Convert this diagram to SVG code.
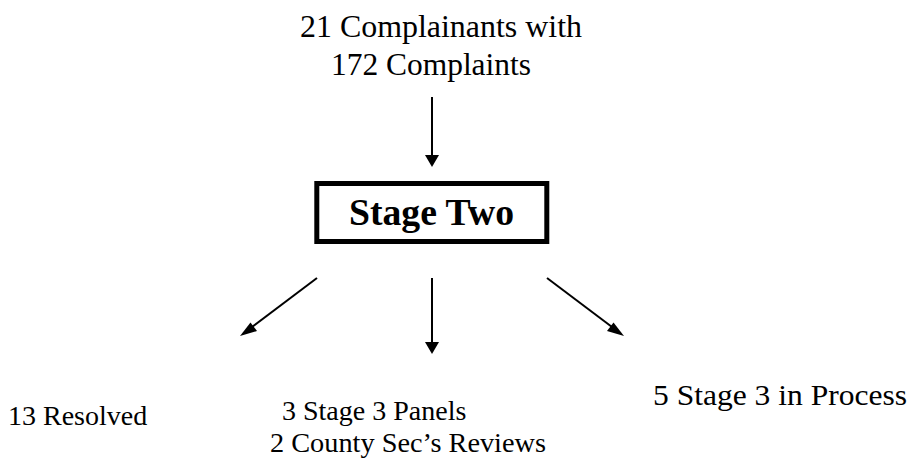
<svg xmlns="http://www.w3.org/2000/svg" width="915" height="462" viewBox="0 0 915 462">
<defs>
<style>
.t{font-family:"Liberation Serif","Times New Roman",serif;fill:#000;}
.n{font-size:28px;}
.top{font-size:31px;}
.b{font-size:37px;font-weight:bold;}
.c{stroke:#000;stroke-width:2;fill:none;}
.h{fill:#000;}
</style>
</defs>
<rect width="915" height="462" fill="#fff"/>
<g id="complainants">
<text class="t top" x="300" y="37" textLength="282" lengthAdjust="spacingAndGlyphs">21 Complainants with</text>
<text class="t top" x="331" y="75" textLength="200" lengthAdjust="spacingAndGlyphs">172 Complaints</text>
</g>
<g id="stage-two">
<rect x="316.8" y="183.5" width="230" height="58" fill="#fff" stroke="#000" stroke-width="5"/>
<text class="t b" x="349" y="225" textLength="165" lengthAdjust="spacingAndGlyphs">Stage Two</text>
</g>
<g id="resolved">
<text class="t n" x="8" y="425">13 Resolved</text>
</g>
<g id="panels">
<text class="t n" x="282" y="420">3 Stage 3 Panels</text>
<text class="t n" x="270" y="452" textLength="276" lengthAdjust="spacingAndGlyphs">2 County Sec’s Reviews</text>
</g>
<g id="in-process">
<text class="t n" x="653" y="405" style="font-size:30px" textLength="254" lengthAdjust="spacingAndGlyphs">5 Stage 3 in Process</text>
</g>
<g id="connectors">
<line x1="432" y1="97" x2="432" y2="155" class="c"/>
<path d="M425,155 L439,155 L432,167 z" class="h"/>
<line x1="432" y1="278" x2="432" y2="342" class="c"/>
<path d="M425,342 L439,342 L432,354 z" class="h"/>
<line x1="317" y1="278" x2="248" y2="330" class="c"/>
<path d="M240,336 L250.5,322.5 L257,331 z" class="h"/>
<line x1="547" y1="278" x2="616" y2="330" class="c"/>
<path d="M624,336 L613.5,322.5 L607,331 z" class="h"/>
</g>
</svg>
